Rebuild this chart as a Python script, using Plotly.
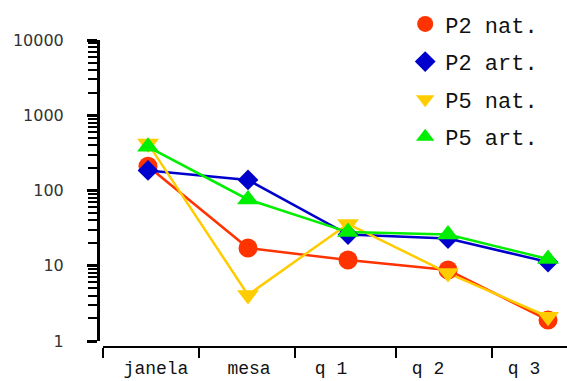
import plotly.graph_objects as go

categories = ["janela", "mesa", "q 1", "q 2", "q 3"]
p2_nat = [210, 17.2, 11.9, 8.8, 1.9]
p2_art = [185, 138, 26, 23, 11.2]
p5_nat = [420, 4.1, 36, 8.0, 2.1]
p5_art = [380, 76, 28, 26, 12.3]
y_tick_vals = [1, 10, 100, 1000, 10000]
y_tick_text = ["1", "10", "100", "1000", "10000"]

W, H = 567, 381
L, R, T, B = 98, 0, 40, 34
pw = W - L - R
ph = H - T - B
xdom0 = 5 / pw
ydom0 = 6 / ph

xpos = list(range(len(categories)))
xr = [-0.45, -0.45 + (pw - 5) / 100.0]

series = [
    ("P2 nat.", p2_nat, "#ff3300", "circle", 19),
    ("P2 art.", p2_art, "#0000cc", "diamond", 16),
    ("P5 nat.", p5_nat, "#ffcc00", "triangle-down", 19),
    ("P5 art.", p5_art, "#00ee00", "triangle-up", 19),
]

fig = go.Figure()
for i, (name, vals, col, sym, sz) in enumerate(series):
    fig.add_trace(go.Scatter(
        x=xpos, y=vals, name=name, mode="lines",
        line=dict(color=col, width=2.5), showlegend=False,
        xaxis="x", yaxis="y", hoverinfo="skip",
    ))
for i, (name, vals, col, sym, sz) in enumerate(series):
    fig.add_trace(go.Scatter(
        x=xpos, y=vals, name=name, mode="markers",
        marker=dict(color=col, symbol=sym, size=sz, line=dict(width=0)),
        legendgroup=f"g{i}", xaxis="x", yaxis="y",
    ))

# minor y ticks
minor_vals = []
for d in [1, 10, 100, 1000]:
    for k in range(2, 10):
        minor_vals.append(d * k)

# boundaries and label positions for the category axis
boundaries = [-0.45, 0.51, 1.47, 2.48, 3.44, 4.4]
label_pos = [0.08, 1.01, 1.83, 2.80, 3.76]

fig.update_layout(
    width=W, height=H,
    margin=dict(l=L, r=R, t=T, b=B, autoexpand=False),
    paper_bgcolor="white", plot_bgcolor="white",
    showlegend=True,
    legend=dict(
        x=0.655, y=1.12, xanchor="left", yanchor="top",
        font=dict(family="Liberation Mono, Courier New, monospace", size=22, color="#111"),
        tracegroupgap=6, bgcolor="rgba(0,0,0,0)",
    ),
    xaxis=dict(
        domain=[xdom0, 1], range=xr, visible=False, fixedrange=True, automargin=False,
    ),
    xaxis2=dict(
        domain=[xdom0, 1], range=xr, overlaying="x", anchor="free", position=0,
        showline=True, linecolor="black", linewidth=2, automargin=False,
        showgrid=False, zeroline=False,
        tickmode="array", tickvals=label_pos, ticktext=categories,
        ticks="", ticklabelstandoff=4,
        tickfont=dict(family="Liberation Mono, Courier New, monospace", size=18, color="#111"),
        minor=dict(tickmode="array", tickvals=boundaries, ticks="outside",
                   ticklen=10, tickwidth=2, tickcolor="black", showgrid=False),
    ),
    yaxis=dict(
        type="log", domain=[ydom0, 1], range=[0, 4], anchor="free", position=0,
        showline=True, linecolor="black", linewidth=3, automargin=False,
        showgrid=False, zeroline=False,
        tickmode="array", tickvals=y_tick_vals, ticktext=y_tick_text,
        ticks="outside", ticklen=10, tickwidth=3, tickcolor="black",
        ticklabelstandoff=20, ticklabelshift=0,
        tickfont=dict(family="DejaVu Sans", size=16, color="#333"),
        minor=dict(tickmode="array", tickvals=minor_vals, ticks="outside",
                   ticklen=9, tickwidth=2, tickcolor="black", showgrid=False),
    ),
)
# dummy trace to activate xaxis2
fig.add_trace(go.Scatter(x=[None], y=[None], xaxis="x2", yaxis="y", showlegend=False, hoverinfo="skip"))

fig.write_html("out.html", config={"displayModeBar": False},
               post_script="document.body.style.margin='0px';")
